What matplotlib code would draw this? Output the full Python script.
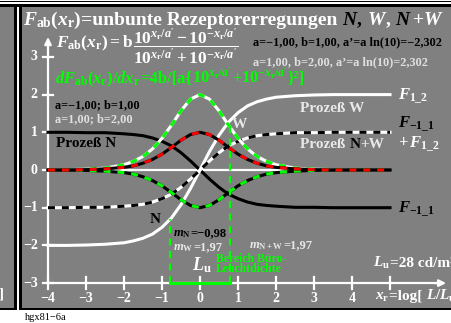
import matplotlib
matplotlib.use("Agg")
import matplotlib.pyplot as plt
from matplotlib.patches import Rectangle

plt.rcParams["font.family"] = ["Liberation Serif", "DejaVu Serif"]
plt.rcParams["font.weight"] = "bold"
plt.rcParams["mathtext.fontset"] = "custom"
plt.rcParams["mathtext.rm"] = "Liberation Serif:bold"
plt.rcParams["mathtext.it"] = "Liberation Serif:italic:bold"
plt.rcParams["mathtext.bf"] = "Liberation Serif:bold"
plt.rcParams["lines.scale_dashes"] = False

# ── Colors ──────────────────────────────────────────────────────────────
GRAY = "#808080"; WHITE = "#ffffff"; BLACK = "#000000"
GREEN = "#00ff00"; RED = "#ff0000"; LIGHT = "#e8e8e8"

# ── Data ────────────────────────────────────────────────────────────────
x_r = [-4, -3.5, -3, -2.5, -2, -1.75, -1.5, -1.25, -1, -0.75, -0.5, -0.25, 0,
       0.25, 0.5, 0.75, 1, 1.25, 1.5, 1.75, 2, 2.5, 3, 3.5, 4, 4.5, 5]
F_N = [1.00, 1.00, 0.99, 0.99, 0.96, 0.94, 0.91, 0.85, 0.76, 0.64, 0.46, 0.24, 0.00,
       -0.24, -0.46, -0.64, -0.76, -0.85, -0.91, -0.94, -0.96, -0.99, -0.99, -1.00, -1.00, -1.00, -1.00]
F_W = [-2.00, -2.00, -1.99, -1.97, -1.93, -1.88, -1.81, -1.70, -1.52, -1.27, -0.92, -0.49, 0.00,
       0.49, 0.92, 1.27, 1.52, 1.70, 1.81, 1.88, 1.93, 1.97, 1.99, 2.00, 2.00, 2.00, 2.00]
F_NW = [-1.00, -1.00, -0.99, -0.99, -0.96, -0.94, -0.91, -0.85, -0.76, -0.64, -0.46, -0.24, 0.00,
        0.24, 0.46, 0.64, 0.76, 0.85, 0.91, 0.94, 0.96, 0.99, 0.99, 1.00, 1.00, 1.00, 1.00]
dF_N = [0.00, 0.00, -0.01, -0.03, -0.07, -0.11, -0.18, -0.28, -0.42, -0.60, -0.79, -0.94, -1.00,
        -0.94, -0.79, -0.60, -0.42, -0.28, -0.18, -0.11, -0.07, -0.03, -0.01, 0.00, 0.00, 0.00, 0.00]
dF_W = [0.00, 0.01, 0.02, 0.05, 0.14, 0.23, 0.36, 0.56, 0.84, 1.19, 1.57, 1.88, 2.00,
        1.88, 1.57, 1.19, 0.84, 0.56, 0.36, 0.23, 0.14, 0.05, 0.02, 0.01, 0.00, 0.00, 0.00]
dF_NW = [0.00, 0.00, 0.01, 0.03, 0.07, 0.11, 0.18, 0.28, 0.42, 0.60, 0.79, 0.94, 1.00,
         0.94, 0.79, 0.60, 0.42, 0.28, 0.18, 0.11, 0.07, 0.03, 0.01, 0.00, 0.00, 0.00, 0.00]
office_x = [-0.79, 0.79]        # Bereich Buero-Leuchtdichte
office_top = [-1.31, 1.31]      # dashed markers end on F_1_2
x_ticks = [-4, -3, -2, -1, 0, 1, 2, 3, 4, 5]
x_labels = ["−4", "−3", "−2", "−1", "0", "1", "2", "3", "4", ""]
y_ticks = [-3, -2, -1, 0, 1, 2, 3]
y_labels = ["−3", "−2", "−1", "0", "1", "2", "3"]

# ── Figure & frame ──────────────────────────────────────────────────────
W, H, DPI = 451, 323, 100
fig = plt.figure(figsize=(W / DPI, H / DPI), dpi=DPI, facecolor=WHITE)

def rect(x0, y0, x1, y1, color):
    fig.add_artist(Rectangle((x0 / W, 1 - y1 / H), (x1 - x0) / W, (y1 - y0) / H,
                             transform=fig.transFigure, color=color, lw=0, zorder=0))

rect(0, 1, W, 2, BLACK)
rect(0, 4, W, 6.5, BLACK)
rect(0, 6.5, 14, 308, GRAY)
rect(14, 6.5, 16.5, 310, BLACK)
rect(18.5, 6.5, 21.5, 310, BLACK)
rect(21.5, 6.5, W, 308, GRAY)
rect(0, 308, 16.5, 310, BLACK)
rect(18.5, 308, W, 310, BLACK)

fig.text(4 / W, 1 - 297 / H, "]", color=WHITE, fontsize=11, ha="right", va="baseline")
fig.text(25 / W, 1 - 320 / H, "hgx81−6a", color=BLACK, fontsize=7.5,
         fontweight="normal", ha="left", va="baseline")

# main axes: 38 px per unit in x (0 at px 200), 37.7 px per unit in y (0 at px 170)
ax = fig.add_axes([21.5 / W, 1 - 308 / H, (W - 21.5) / W, (308 - 6.5) / H])
ax.set_xlim((21.5 - 200) / 38, (W - 200) / 38)
ax.set_ylim((170 - 308) / 37.7, (170 - 6.5) / 37.7)
ax.axis("off")

# ── Axes lines ──────────────────────────────────────────────────────────
LW = 2.2
ax.plot([-4, 6.3], [-3, -3], color=WHITE, lw=1.6, zorder=2)
ax.plot([-4, -4], [-3, 3.4], color=WHITE, lw=1.6, zorder=2)
ax.annotate("", xy=(6.55, -3), xytext=(6.1, -3),
            arrowprops=dict(arrowstyle="-|>", color=WHITE, lw=1.6, mutation_scale=10))
ax.annotate("", xy=(-4, 3.6), xytext=(-4, 3.2),
            arrowprops=dict(arrowstyle="-|>", color=WHITE, lw=1.6, mutation_scale=10))
for t, lab in zip(x_ticks, x_labels):
    ax.plot([t, t], [-3.16, -2.84], color=WHITE, lw=1.6, zorder=2)
    ax.text(t, -3.4, lab, color=WHITE, fontsize=10, ha="center", va="center")
for t, lab in zip(y_ticks, y_labels):
    ax.plot([-4.13, -3.87], [t, t], color=WHITE, lw=1.6, zorder=2)
    ax.text(-4.27, t, lab, color=WHITE, fontsize=10, ha="right", va="center")
ax.plot([x_r[0], x_r[-1]], [0, 0], color=WHITE, lw=1.6, zorder=2)

# ── Curves ──────────────────────────────────────────────────────────────
D = (0, (5, 5))
ax.plot(x_r, F_N, color=BLACK, lw=LW, zorder=3)
ax.plot(x_r, F_W, color=WHITE, lw=LW, zorder=3)
ax.plot(x_r, F_NW, color=WHITE, lw=LW, zorder=3)
ax.plot(x_r, F_NW, color=BLACK, lw=LW, ls=D, zorder=3)
ax.plot(x_r, dF_W, color=WHITE, lw=LW, zorder=4)
ax.plot(x_r, dF_W, color=GREEN, lw=LW, ls=D, zorder=4)
ax.plot(x_r, dF_N, color=BLACK, lw=LW, zorder=4)
ax.plot(x_r, dF_N, color=GREEN, lw=LW, ls=D, zorder=4)
ax.plot(x_r, dF_NW, color=BLACK, lw=LW, zorder=5)
ax.plot(x_r, dF_NW, color=RED, lw=LW, ls=D, zorder=5)

for xo, yt in zip(office_x, office_top):
    ax.plot([xo, xo], [-3, yt], color=GREEN, lw=1.6, ls=(0, (5, 4)), zorder=6)
ax.plot(office_x, [-3, -3], color=GREEN, lw=2.2, zorder=6)

# ── Text ────────────────────────────────────────────────────────────────
def chain(x, y, parts, size, **kw):
    """Write text pieces one after another on a common baseline."""
    r = fig.canvas.get_renderer()
    for part in parts:
        s, c = part[0], part[1]
        dy = part[2] if len(part) > 2 else 0
        t = ax.text(x, y + dy, s, color=c, fontsize=size, ha="left", va="baseline",
                    zorder=8, **kw)
        bb = t.get_window_extent(r)
        x = ax.transData.inverted().transform((bb.x1, bb.y0))[0]

XR = r"x_{\mathrm{r}}"
chain(-4.67, 3.85, [(r"$F_{\mathrm{ab}}(" + XR + ")$", WHITE),
                    ("=unbunte Rezeptorerregungen ", WHITE),
                    (r"$N$,", BLACK), (r" $W$,", WHITE),
                    (r" $N$", BLACK), (r"$+W$", WHITE)], 14)
chain(-3.8, 3.26, [(r"$F_{\mathrm{ab}}(" + XR + r")=\mathrm{b}$ ", WHITE),
                   (r"$\dfrac{10^{" + XR + r"/a'}-10^{-" + XR + r"/a'}}"
                    r"{10^{" + XR + r"/a'}+10^{-" + XR + r"/a'}}$", WHITE, -0.13)], 12.5)
ax.text(1.4, 3.32, "a=−1,00, b=1,00, a’=a ln(10)=−2,302", color=BLACK, fontsize=8.8,
        ha="left", va="baseline")
ax.text(1.4, 2.78, "a=1,00, b=2,00, a’=a ln(10)=2,302", color="#e0e0e0", fontsize=8.8,
        ha="left", va="baseline")
chain(-3.82, 2.31, [(r"$dF_{\mathrm{ab}}(" + XR + r")/d" + XR + "$", GREEN),
                    ("=4b/[a{", GREEN), (r"$10^{" + XR + r"/a'}$", GREEN),
                    ("+", GREEN), (r"$10^{-" + XR + r"/a'}$", GREEN), ("}²]", GREEN)], 12)
ax.text(-3.82, 1.64, "a=−1,00; b=1,00", color=BLACK, fontsize=8.8, ha="left", va="baseline")
ax.text(-3.82, 1.27, "a=1,00; b=2,00", color="#e0e0e0", fontsize=8.8, ha="left", va="baseline")
ax.text(-3.8, 0.61, "Prozeß N", color=BLACK, fontsize=11, ha="left", va="baseline")
ax.text(2.64, 1.54, "Prozeß W", color=LIGHT, fontsize=11, ha="left", va="baseline")
chain(2.64, 0.58, [("Prozeß ", LIGHT), ("N", BLACK), ("+W", LIGHT)], 11)

ax.text(5.2, 1.86, r"$F_{1\_2}$", color=WHITE, fontsize=12, ha="left", va="baseline")
ax.text(5.2, 1.11, r"$F_{-1\_1}$", color=BLACK, fontsize=12, ha="left", va="baseline")
ax.text(5.2, 0.58, r"$+\,F_{1\_2}$", color=WHITE, fontsize=12, ha="left", va="baseline")
ax.text(5.2, -1.14, r"$F_{-1\_1}$", color=BLACK, fontsize=12, ha="left", va="baseline")

ax.text(0.84, 1.11, "W", color=LIGHT, fontsize=11, ha="left", va="baseline")
ax.text(-1.32, -1.41, "N", color=BLACK, fontsize=11, ha="left", va="baseline")

chain(-0.72, -1.75, [(r"$m_{\mathrm{N}}$", BLACK), ("=−0,98", BLACK)], 9)
chain(-0.72, -2.12, [(r"$m_{\mathrm{W}}$", LIGHT), ("=1,97", LIGHT)], 9)
chain(1.3, -2.07, [(r"$m_{\mathrm{N+W}}$", LIGHT), ("=1,97", LIGHT)], 9)
ax.text(-0.21, -2.65, r"$L_{\mathrm{u}}$", color=WHITE, fontsize=13, ha="left", va="baseline")
ax.text(0.42, -2.44, "Bereich Büro-", color=GREEN, fontsize=8.5, ha="left", va="baseline")
ax.text(0.42, -2.70, "Leuchtdichte", color=GREEN, fontsize=8.5, ha="left", va="baseline")
chain(4.55, -2.57, [(r"$L_{\mathrm{u}}$", WHITE), ("=28 cd/m²", WHITE)], 11)
chain(4.6, -3.45, [(r"$" + XR + "$", WHITE), ("=log[ ", WHITE),
                   (r"$L/L_{\mathrm{u}}$", WHITE), ("]", WHITE)], 11)

fig.savefig("out.png", dpi=DPI, facecolor=WHITE)
